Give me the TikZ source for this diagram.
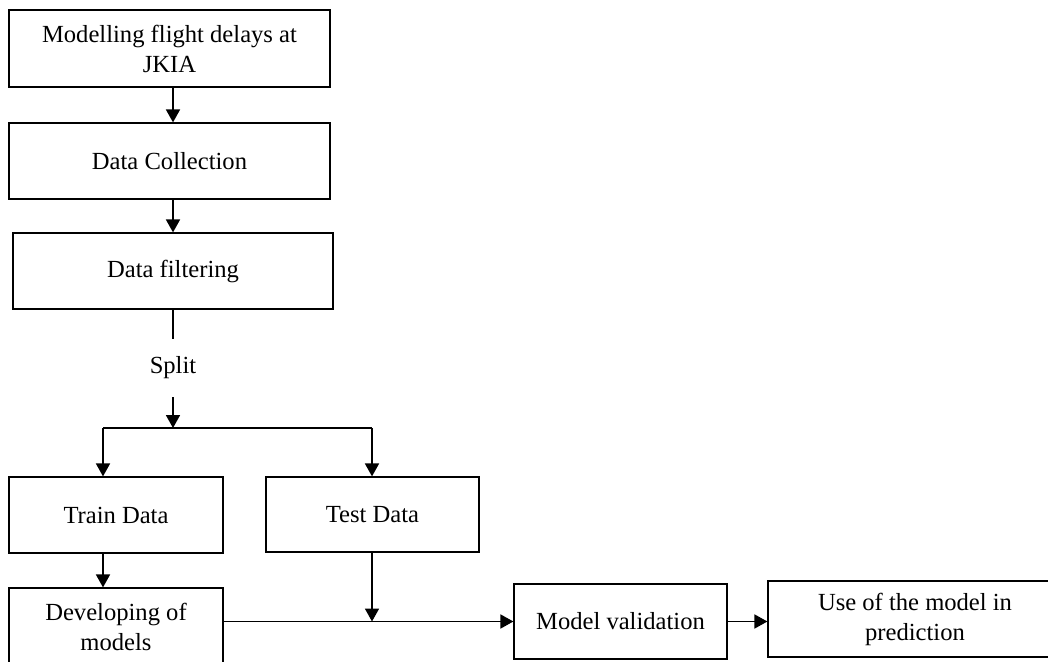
\documentclass[tikz,border=0pt]{standalone}
\usepackage{fontspec}
\setmainfont{Liberation Serif}
\usetikzlibrary{arrows.meta}
\tikzset{
  box/.style={draw, line width=0.6pt, rectangle, inner sep=0pt, align=center,
    font=\fontsize{12.3}{15}\selectfont},
  lbl/.style={inner sep=0pt, align=center, font=\fontsize{12.3}{15}\selectfont},
  conn/.style={line width=0.9pt},
  arr/.style={line width=0.9pt, -{Triangle[width=7pt,length=6.5pt]}}
}
\begin{document}
\begin{tikzpicture}[x=0.5pt,y=-0.5pt]
\useasboundingbox (0,0) rectangle (1048,662);
\clip (0,0) rectangle (1048,662);
\node[box, minimum width=160.5pt, minimum height=38.5pt] (m1) at (169.5,48.5) {Modelling flight delays at\\JKIA};
\node[box, minimum width=160.5pt, minimum height=38pt] (dc) at (169.5,161) {Data Collection};
\node[box, minimum width=160pt, minimum height=38pt] (df) at (173,271) {Data filtering};
\node[lbl, minimum height=29pt] (split) at (173,368) {Split};
\node[box, minimum width=107pt, minimum height=38pt] (train) at (116,515) {Train Data};
\node[box, minimum width=106.5pt, minimum height=37.5pt] (test) at (372.5,514.5) {Test Data};
\node[box, minimum width=107pt, minimum height=39pt] (dev) at (116,627) {Developing of\\models};
\node[box, minimum width=106.5pt, minimum height=37.5pt] (mv) at (620.5,621.5) {Model validation};
\node[box, minimum width=147pt, minimum height=38pt] (use) at (915,619) {Use of the model in\\prediction};
\coordinate (fork) at (173,428);
\coordinate (forkL) at (103,428);
\coordinate (forkR) at (372,428);
\coordinate (J) at (372,621.5);
\draw[arr] (m1.south -| split) -- (dc.north -| split);
\draw[arr] (dc.south -| split) -- (df.north -| split);
\draw[conn] (df.south) -- (split.north);
\draw[arr] (split.south) -- (fork);
\draw[conn] (forkL) -- (forkR);
\draw[arr] (forkL) -- (forkL |- train.north);
\draw[arr] (forkR) -- (forkR |- test.north);
\draw[arr] (train.south -| forkL) -- (dev.north -| forkL);
\draw[arr] (test.south -| J) -- (J);
\draw[arr] (dev.east |- mv.west) -- (mv.west);
\draw[arr] (mv.east) -- (use.west |- mv.east);
\end{tikzpicture}
\end{document}
